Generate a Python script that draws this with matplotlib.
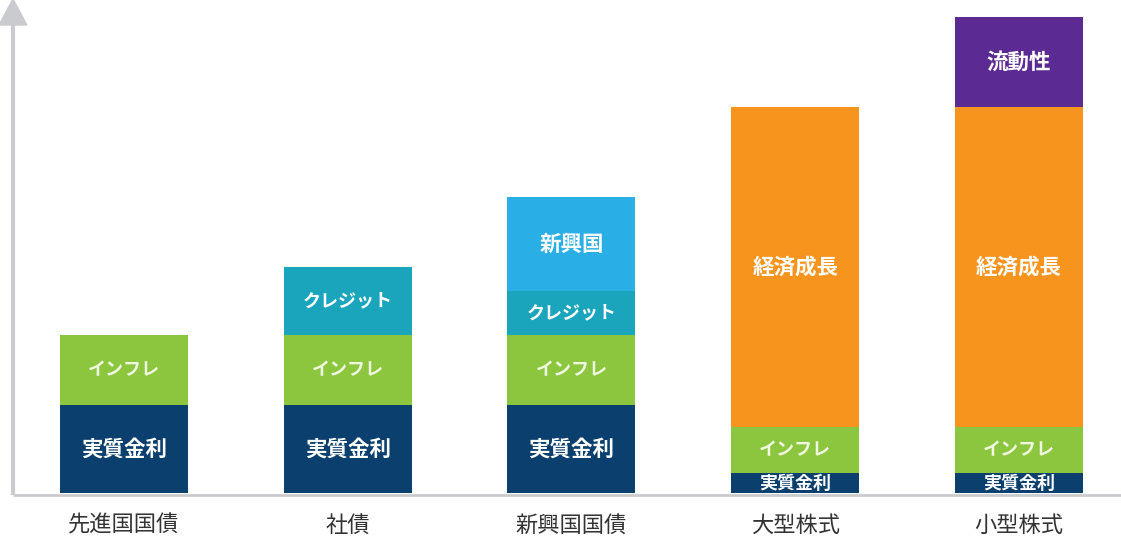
import numpy as np
import matplotlib.pyplot as plt
from matplotlib.patches import Polygon

plt.rcParams['font.family'] = ['Noto Sans CJK JP', 'DejaVu Sans']

# categories and stacked components (arbitrary units)
categories = ['先進国国債', '社債', '新興国国債', '大型株式', '小型株式']
segments = ['実質金利', 'インフレ', 'クレジット', '新興国', '経済成長', '流動性']
real_rate = [88, 88, 88, 20, 20]
inflation = [70, 70, 70, 46, 46]
credit = [0, 68, 44, 0, 0]
emerging = [0, 0, 94, 0, 0]
growth = [0, 0, 0, 320, 320]
liquidity = [0, 0, 0, 0, 90]

values = [real_rate, inflation, credit, emerging, growth, liquidity]
colors = ['#0b3f6e', '#8cc63e', '#1ba5bd', '#2aaee6', '#f7941e', '#5b2a92']
text_colors = ['white', '#eef7df', 'white', 'white', 'white', 'white']
font_sizes = [15.5, 13, 13, 15.5, 15.5, 15.5]

fig = plt.figure(figsize=(11.21, 5.38), dpi=100)
ax = fig.add_axes([0, 0, 1, 1])
ax.set_xlim(-0.554, 4.456)
ax.set_ylim(-45, 493)
ax.axis('off')

x = np.arange(len(categories))
width = 0.572
bottom = np.zeros(len(categories))
for name, vals, c, tc, fs in zip(segments, values, colors, text_colors, font_sizes):
    vals = np.array(vals, dtype=float)
    ax.bar(x, vals, width, bottom=bottom, color=c, zorder=2)
    for xi, v, b in zip(x, vals, bottom):
        if v > 0:
            ax.text(xi, b + v / 2, name, ha='center', va='center',
                    color=tc, fontsize=fs if v > 30 else 13,
                    fontweight='bold', zorder=3)
    bottom += vals

# axes: light grey baseline and arrow on y axis
axis_col = '#c9cbcf'
yx = -0.496
ax.plot([yx, 4.456], [-2, -2], color=axis_col, lw=2, zorder=1,
        solid_capstyle='butt')
ax.plot([yx, yx], [-2, 470], color=axis_col, lw=3, zorder=1,
        solid_capstyle='butt')
ax.add_patch(Polygon([[yx - 0.062, 468], [yx + 0.062, 468], [yx, 494]],
                     closed=True, color=axis_col, zorder=1))

for xi, lab in zip(x, categories):
    ax.text(xi, -32, lab, ha='center', va='center', color='#333333',
            fontsize=16)

plt.savefig('out.png', dpi=100)
